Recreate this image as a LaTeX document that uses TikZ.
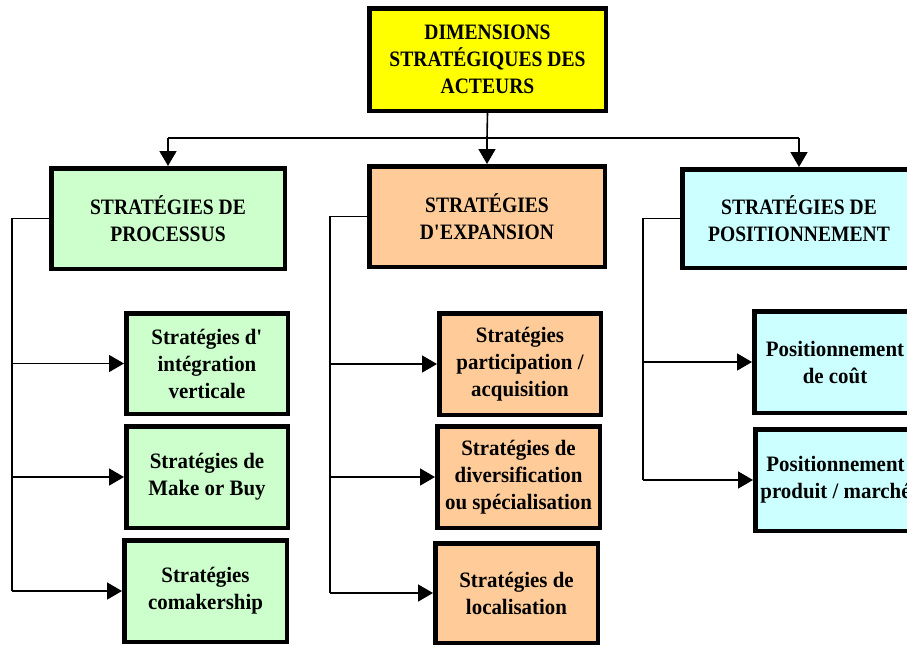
\documentclass[tikz,border=0pt]{standalone}
\usepackage{fontspec}
\setmainfont{Liberation Serif}[FakeStretch=0.95]
\newfontfamily\capsfont{Liberation Serif}[FakeStretch=0.89]
\usetikzlibrary{arrows.meta,calc}
\definecolor{topyellow}{HTML}{FFFF00}
\definecolor{procgreen}{HTML}{CCFFCC}
\definecolor{exporange}{HTML}{FFCC99}
\definecolor{poscyan}{HTML}{CCFFFF}
\begin{document}
\begin{tikzpicture}[x=1pt,y=-1pt,
  box/.style={draw=black,line width=4.5pt,rectangle,align=center,inner sep=2pt,
    font=\fontsize{22}{27}\selectfont\bfseries},
  capsbox/.style={box,font=\fontsize{22}{27}\selectfont\capsfont\bfseries},
  conn/.style={draw=black,line width=1.6pt},
  arr/.style={conn,-{Triangle[length=15pt,width=17pt]}}]
\useasboundingbox (0,0) rectangle (907,646);
\clip (0,0) rectangle (907,646);
% top
\node[capsbox,fill=topyellow,minimum width=236.5pt,minimum height=102.5pt] (top) at (487.5,59.5)
  {DIMENSIONS\\STRATÉGIQUES DES\\ACTEURS};
% level 2
\node[capsbox,fill=procgreen,minimum width=233.5pt,minimum height=100.5pt] (proc) at (168,218.5)
  {STRATÉGIES DE\\PROCESSUS};
\node[capsbox,fill=exporange,minimum width=235.5pt,minimum height=100.5pt] (exp) at (487,216.5)
  {STRATÉGIES\\D\textquotesingle EXPANSION};
\node[capsbox,fill=poscyan,minimum width=233.5pt,minimum height=98.5pt] (pos) at (799,218.5)
  {STRATÉGIES DE\\POSITIONNEMENT};
% level 3 processus
\node[box,fill=procgreen,minimum width=161.5pt,minimum height=100.5pt] (p1) at (207,363.5)
  {Stratégies d\textquotesingle\\intégration\\verticale};
\node[box,fill=procgreen,minimum width=161.5pt,minimum height=101.5pt] (p2) at (207,477)
  {Stratégies de\\Make or Buy};
\node[box,fill=procgreen,minimum width=162.5pt,minimum height=101.5pt] (p3) at (205.5,591)
  {Stratégies\\comakership};
% level 3 expansion
\node[box,fill=exporange,minimum width=161.5pt,minimum height=101.5pt] (e1) at (520,364)
  {Stratégies\\participation /\\acquisition};
\node[box,fill=exporange,minimum width=162.5pt,minimum height=101.5pt] (e2) at (518.5,477)
  {Stratégies de\\diversification\\ou spécialisation};
\node[box,fill=exporange,minimum width=162.5pt,minimum height=99.5pt] (e3) at (516.5,593)
  {Stratégies de\\localisation};
% level 3 positionnement
\node[box,fill=poscyan,minimum width=161.5pt,minimum height=101.5pt] (q1) at (835,362)
  {Positionnement\\de coût};
\node[box,fill=poscyan,minimum width=160.5pt,minimum height=101.5pt] (q2) at (835.5,480)
  {Positionnement\\produit / marché};
% top connectors
\coordinate (bus) at (487,138);
\draw[conn] (top.south) -- (bus);
\draw[conn] (proc.north |- bus) -- (pos.north |- bus);
\draw[arr] (bus) -- (exp.north);
\draw[arr] (proc.north |- bus) -- (proc.north);
\draw[arr] (pos.north |- bus) -- (pos.north);
% processus branch
\coordinate (pb) at (12,218.5);
\draw[conn] (proc.west) -- (pb) -- (pb |- p3.west);
\draw[arr] (pb |- p1.west) -- (p1.west);
\draw[arr] (pb |- p2.west) -- (p2.west);
\draw[arr] (pb |- p3.west) -- (p3.west);
% expansion branch
\coordinate (eb) at (330,216.5);
\draw[conn] (exp.west) -- (eb) -- (eb |- e3.west);
\draw[arr] (eb |- e1.west) -- (e1.west);
\draw[arr] (eb |- e2.west) -- (e2.west);
\draw[arr] (eb |- e3.west) -- (e3.west);
% positionnement branch
\coordinate (qb) at (643,218.5);
\draw[conn] (pos.west) -- (qb) -- (qb |- q2.west);
\draw[arr] (qb |- q1.west) -- (q1.west);
\draw[arr] (qb |- q2.west) -- (q2.west);
\end{tikzpicture}
\end{document}
